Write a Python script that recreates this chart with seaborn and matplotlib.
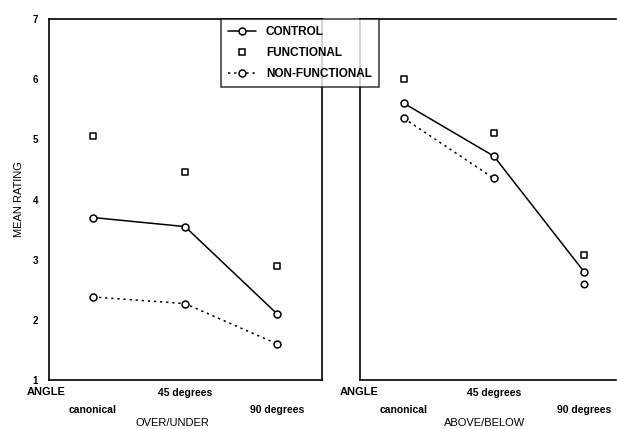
import matplotlib
matplotlib.use("Agg")
import matplotlib.pyplot as plt
import seaborn as sns
import pandas as pd
from matplotlib.lines import Line2D

sns.set_theme(style="white")
plt.rcParams['font.family'] = ['Liberation Sans', 'DejaVu Sans']
plt.rcParams.update({"text.color": "black", "axes.labelcolor": "black",
                     "xtick.color": "black", "ytick.color": "black"})

angles = ["canonical", "45 degrees", "90 degrees"]
panels = ["OVER/UNDER", "ABOVE/BELOW"]
control_over = [3.70, 3.55, 2.10]
functional_over = [5.05, 4.45, 2.90]
nonfunctional_over = [2.38, 2.27, 1.60]
control_above = [5.60, 4.72, 2.80]
functional_above = [6.00, 5.10, 3.07]
nonfunctional_above = [5.35, 4.35, 2.60]
yticks = [1, 2, 3, 4, 5, 6, 7]

def frame(ctrl, func, nonf):
    rows = []
    for i, a in enumerate(angles):
        rows.append(dict(pos=i, angle=a, cond="CONTROL", rating=ctrl[i]))
        rows.append(dict(pos=i, angle=a, cond="FUNCTIONAL", rating=func[i]))
        rows.append(dict(pos=i, angle=a, cond="NON-FUNCTIONAL", rating=nonf[i]))
    return pd.DataFrame(rows)

data = [frame(control_over, functional_over, nonfunctional_over),
        frame(control_above, functional_above, nonfunctional_above)]

fig = plt.figure(figsize=(6.17, 4.29), dpi=100)
axL = fig.add_axes([49/617, 1-380/429, 273/617, 361/429])
axR = fig.add_axes([360/617, 1-380/429, 256/617, 361/429])
xlims = [(-0.478, 2.489), (-0.486, 2.355)]

mk = dict(markersize=5, markerfacecolor="white", markeredgecolor="black", markeredgewidth=1.1)
dot = (0, (1.5, 2.5))
for k, (ax, df) in enumerate(zip([axL, axR], data)):
    c = df[df.cond == "CONTROL"]
    f = df[df.cond == "FUNCTIONAL"]
    n = df[df.cond == "NON-FUNCTIONAL"]
    sns.lineplot(data=c, x="pos", y="rating", ax=ax, color="black", lw=1.1,
                 marker="o", **mk)
    if k == 0:
        sns.lineplot(data=n, x="pos", y="rating", ax=ax, color="black", lw=1.1,
                     linestyle=dot, marker="o", **mk)
    else:
        sns.lineplot(data=n.iloc[:2], x="pos", y="rating", ax=ax, color="black", lw=1.1,
                     linestyle=dot, marker="o", **mk)
        sns.scatterplot(data=n.iloc[2:], x="pos", y="rating", ax=ax, marker="o", s=22,
                        facecolor="white", edgecolor="black", linewidth=1.1)
    sns.scatterplot(data=f, x="pos", y="rating", ax=ax, marker="s", s=22,
                    facecolor="white", edgecolor="black", linewidth=1.1)
    ax.set_xlim(*xlims[k])
    ax.set_ylim(1, 7)
    ax.set_xticks([])
    ax.set_xlabel("")
    ax.set_ylabel("")
    for s in ax.spines.values():
        s.set_color("black")
        s.set_linewidth(1.2)
    if k == 1:
        ax.spines["right"].set_visible(False)
        ax.set_yticks([])
    else:
        ax.set_yticks(yticks)
        ax.set_yticklabels([str(t) for t in yticks], fontsize=7, fontweight="bold")
        ax.tick_params(axis="y", length=0, pad=8)
        ax.set_ylabel("MEAN RATING", fontsize=8, labelpad=6)
    tr = ax.get_xaxis_transform()
    ax.text(0, -25/361, angles[0], transform=tr, ha="center", va="top", fontsize=7.5, fontweight="bold")
    ax.text(1, -8/361, angles[1], transform=tr, ha="center", va="top", fontsize=7.5, fontweight="bold")
    ax.text(2, -25/361, angles[2], transform=tr, ha="center", va="top", fontsize=7.5, fontweight="bold")
    ax.text(1 - (0.14 if k == 0 else 0.1), -38/361, panels[k], transform=tr,
            ha="center", va="top", fontsize=8)

fig.text(27/617, 1-387/429, "ANGLE", ha="left", va="top", fontsize=8, fontweight="bold")
fig.text(340/617, 1-387/429, "ANGLE", ha="left", va="top", fontsize=8, fontweight="bold")

handles = [
    Line2D([], [], color="black", lw=1.1, marker="o", **mk),
    Line2D([], [], color="black", lw=0, marker="s", **mk),
    Line2D([], [], color="black", lw=1.1, linestyle=dot, marker="o", **mk),
]
leg = fig.legend(handles, ["CONTROL", "FUNCTIONAL", "NON-FUNCTIONAL"],
                 loc="upper left", bbox_to_anchor=(221/617, 1-19/429),
                 borderaxespad=0, frameon=True, fancybox=False, handlelength=2.4,
                 borderpad=0.6, labelspacing=0.75, prop=dict(weight="bold", size=8.5))
leg.get_frame().set_edgecolor("black")
leg.get_frame().set_linewidth(1.1)
leg.get_frame().set_facecolor("white")
leg.set_zorder(10)

fig.savefig("out.png", dpi=100)
